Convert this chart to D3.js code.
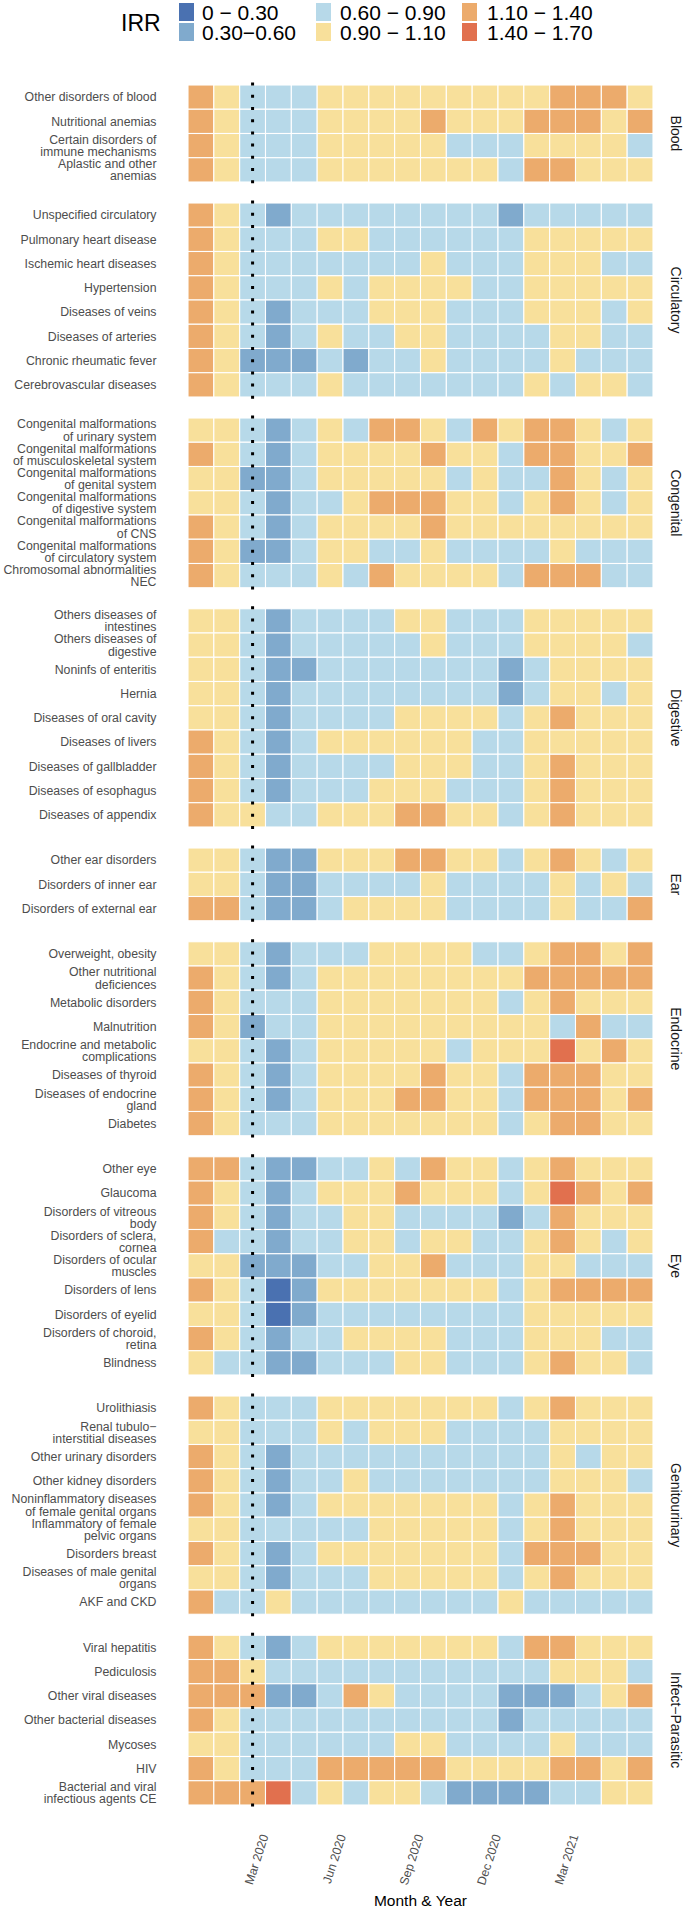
<!DOCTYPE html>
<html><head><meta charset="utf-8">
<script src="https://cdn.jsdelivr.net/npm/d3@7"></script>
<style>html,body{margin:0;padding:0;background:#fff;} svg{display:block;font-family:"Liberation Sans",Arial,sans-serif;}</style>
</head><body><svg id="chart" width="685" height="1912"></svg>
<script>
const months = ["Jan 2020","Feb 2020","Mar 2020","Apr 2020","May 2020","Jun 2020","Jul 2020","Aug 2020","Sep 2020","Oct 2020","Nov 2020","Dec 2020","Jan 2021","Feb 2021","Mar 2021","Apr 2021","May 2021","Jun 2021"];
const tickMonths = ["Mar 2020","Jun 2020","Sep 2020","Dec 2020","Mar 2021"];
const lockdownMonth = "Mar 2020";
const irrBreaks = [0.3, 0.6, 0.9, 1.1, 1.4];
const irrColors = ["#4a71b1", "#80aacd", "#b7d9e9", "#f8e09b", "#ecab6c", "#e1704e"];
const irrLegendLabels = ["0 \u2212 0.30", "0.30\u22120.60", "0.60 \u2212 0.90", "0.90 \u2212 1.10", "1.10 \u2212 1.40", "1.40 \u2212 1.70"];

const bloodLabels = ["Other disorders of blood","Nutritional anemias","Certain disorders of\nimmune mechanisms","Aplastic and other\nanemias"];
const bloodValues = [
[1.25,1,.75,.75,.75,1,1,1,1,1,1,1,1,1,1.25,1.25,1.25,1],
[1.25,1,.75,.75,.75,1,1,1,1,1.25,1,1,1,1.25,1.25,1.25,1,1.25],
[1.25,1,.75,.75,.75,1,1,1,1,1,.75,.75,.75,1,1,1,1,.75],
[1.25,1,.75,.75,.75,1,1,1,1,1,1,1,.75,1.25,1.25,1,1,1]];

const circLabels = ["Unspecified circulatory","Pulmonary heart disease","Ischemic heart diseases","Hypertension","Diseases of veins","Diseases of arteries","Chronic rheumatic fever","Cerebrovascular diseases"];
const circValues = [
[1.25,1,.75,.45,.75,.75,.75,.75,.75,.75,.75,.75,.45,.75,.75,.75,.75,.75],
[1.25,1,.75,.75,.75,1,1,.75,.75,.75,.75,.75,.75,1,1,1,1,1],
[1.25,1,.75,.75,.75,.75,.75,.75,.75,1,.75,.75,.75,1,1,1,.75,.75],
[1.25,1,.75,.75,.75,1,.75,1,1,1,1,.75,.75,1,1,1,1,1],
[1.25,1,.75,.45,.75,.75,.75,1,1,1,.75,.75,.75,1,1,1,.75,1],
[1.25,1,.75,.45,.75,1,.75,.75,1,1,.75,.75,.75,.75,1,1,.75,.75],
[1.25,1,.45,.45,.45,.75,.45,.75,.75,1,.75,.75,.75,.75,1,.75,.75,.75],
[1.25,1,.75,.75,.75,1,.75,.75,.75,.75,.75,.75,.75,1,.75,1,1,.75]];

const congLabels = ["Congenital malformations\nof urinary system","Congenital malformations\nof musculoskeletal system","Congenital malformations\nof genital system","Congenital malformations\nof digestive system","Congenital malformations\nof CNS","Congenital malformations\nof circulatory system","Chromosomal abnormalities\nNEC"];
const congValues = [
[1,1,.75,.45,.75,1,.75,1.25,1.25,1,.75,1.25,1,1.25,1.25,1,.75,1],
[1.25,1,.75,.45,.75,1,1,1,1,1.25,1,1,.75,1.25,1.25,1,1,1.25],
[1,1,.45,.45,.75,1,1,1,1,1,.75,1,.75,.75,1.25,1,.75,1],
[1,1,.75,.45,.75,.75,1,1.25,1.25,1.25,1,1,.75,1,1.25,1,.75,1],
[1.25,1,.75,.45,.75,1,1,1,1,1.25,1,1,1,1,1,1,1,1],
[1.25,1,.45,.45,.75,1,1,.75,.75,1,.75,.75,.75,.75,1,.75,.75,.75],
[1.25,1,.75,.75,.75,1,.75,1.25,1,1,1,1,.75,1.25,1.25,1.25,.75,.75]];

const digLabels = ["Others diseases of\nintestines","Others diseases of\ndigestive","Noninfs of enteritis","Hernia","Diseases of oral cavity","Diseases of livers","Diseases of gallbladder","Diseases of esophagus","Diseases of appendix"];
const digValues = [
[1,1,.75,.45,.75,.75,.75,.75,1,1,.75,.75,.75,1,1,1,1,1],
[1,1,.75,.45,.75,.75,.75,.75,.75,1,.75,.75,.75,1,1,1,1,.75],
[1,1,.75,.45,.45,.75,.75,.75,.75,.75,.75,.75,.45,.75,1,1,1,1],
[1,1,.75,.45,.75,.75,.75,.75,.75,.75,.75,.75,.45,.75,1,1,.75,1],
[1,1,.75,.45,.75,.75,.75,.75,1,1,1,1,.75,1,1.25,1,1,1],
[1.25,1,.75,.45,.75,1,1,1,1,1,1,.75,.75,1,1,1,1,1],
[1.25,1,.75,.45,.75,.75,.75,.75,1,1,1,.75,.75,1,1.25,1,1,1],
[1.25,1,.75,.45,.75,.75,.75,1,1,1,.75,.75,.75,1,1.25,1,1,1],
[1.25,1,1,.75,.75,1,1,1,1.25,1.25,1,1,.75,1,1.25,1,1,1]];

const earLabels = ["Other ear disorders","Disorders of inner ear","Disorders of external ear"];
const earValues = [
[1,1,.75,.45,.45,1,1,1,1.25,1.25,1,1,.75,1,1.25,1,.75,1],
[1,1,.75,.45,.45,.75,.75,.75,.75,1,.75,.75,.75,.75,1,.75,1,.75],
[1.25,1.25,.75,.45,.45,.75,1,1,1,1,.75,.75,.75,.75,1,.75,.75,1.25]];

const endoLabels = ["Overweight, obesity","Other nutritional\ndeficiences","Metabolic disorders","Malnutrition","Endocrine and metabolic\ncomplications","Diseases of thyroid","Diseases of endocrine\ngland","Diabetes"];
const endoValues = [
[1,1,.75,.45,.75,.75,.75,1,1,1,1,.75,.75,1,1.25,1.25,1,1.25],
[1.25,1,.75,.45,.75,1,1,1,1,1,1,1,1,1.25,1.25,1.25,1.25,1.25],
[1.25,1,.75,.75,.75,1,1,1,1,1,1,1,.75,1,1.25,1,1,1],
[1.25,1,.45,.75,.75,1,1,1,1,1,1,1,1,1,.75,1.25,.75,.75],
[1,1,.75,.45,.75,1,1,1,1,1,.75,1,1,1,1.55,1,1.25,1],
[1.25,1,.75,.45,.75,1,1,1,1,1.25,1,1,.75,1.25,1.25,1.25,1,1],
[1.25,1,.75,.45,.75,1,1,1,1.25,1.25,1,1,.75,1.25,1.25,1.25,1,1.25],
[1.25,1,.75,.75,.75,1,1,1,1,1,1,1,.75,1,1.25,1.25,1,1]];

const eyeLabels = ["Other eye","Glaucoma","Disorders of vitreous\nbody","Disorders of sclera,\ncornea","Disorders of ocular\nmuscles","Disorders of lens","Disorders of eyelid","Disorders of choroid,\nretina","Blindness"];
const eyeValues = [
[1.25,1.25,.75,.45,.45,.75,.75,1,.75,1.25,1,1,.75,1,1.25,1,1,1],
[1.25,1,.75,.45,.75,1,1,1,1.25,1,1,1,.75,1,1.55,1.25,1,1.25],
[1.25,1,.75,.45,.75,.75,1,1,.75,.75,.75,.75,.45,.75,1.25,1,1,1],
[1.25,.75,.75,.45,.75,.75,1,1,.75,1,1,.75,.75,1,1.25,1,.75,1],
[1,1,.45,.45,.45,.75,.75,1,1,1.25,.75,.75,.75,1,1,.75,.75,.75],
[1.25,1,.75,.2,.45,1,1,1,1,1,1,1,.75,1,1.25,1.25,1.25,1.25],
[1,1,.75,.2,.45,.75,.75,.75,.75,.75,.75,.75,.75,1,1,1,1,1],
[1.25,1,.75,.45,.75,.75,1,1,1,1,.75,.75,.75,1,1,1,.75,.75],
[1,.75,.75,.45,.45,.75,.75,.75,1,1,.75,.75,.75,1,1.25,1,1,.75]];

const genLabels = ["Urolithiasis","Renal tubulo\u2212\ninterstitial diseases","Other urinary disorders","Other kidney disorders","Noninflammatory diseases\nof female genital organs","Inflammatory of female\npelvic organs","Disorders breast","Diseases of male genital\norgans","AKF and CKD"];
const genValues = [
[1.25,1,.75,.75,.75,1,1,1,1,1,1,1,.75,1,1.25,1,1,1],
[1,1,.75,.75,.75,1,.75,1,1,1,.75,.75,.75,.75,1,1,1,1],
[1.25,1,.75,.45,.75,.75,.75,.75,.75,.75,.75,.75,.75,.75,1,.75,1,1],
[1.25,1,.75,.45,.75,.75,1,.75,.75,.75,.75,.75,.75,.75,1,1,1,.75],
[1.25,1,.75,.45,.75,1,1,1,1,1,1,1,.75,1,1.25,1,1,1],
[1,1,.75,.75,.75,.75,.75,1,1,1,1,1,.75,1,1.25,1,1,1],
[1.25,1,.75,.45,.75,1,1,1,1,1,1,1,.75,1.25,1.25,1.25,1,1],
[1,1,.75,.45,.75,.75,.75,1,1,1,1,1,.75,1,1.25,1,1,1],
[1.25,.75,.75,1,.75,.75,.75,.75,.75,.75,.75,.75,1,.75,.75,.75,.75,.75]];

const infLabels = ["Viral hepatitis","Pediculosis","Other viral diseases","Other bacterial diseases","Mycoses","HIV","Bacterial and viral\ninfectious agents CE"];
const infValues = [
[1.25,1,.75,.45,.75,1,1,1,1,1,1,1,.75,1.25,1.25,1,1,1],
[1.25,1.25,1,.75,.75,.75,.75,.75,.75,.75,.75,.75,.75,.75,1,1,1,.75],
[1.25,1.25,1.25,.45,.45,.75,1.25,1,.75,.75,.75,.75,.45,.45,.45,.75,1,1.25],
[1.25,1,.75,.75,.75,.75,.75,.75,.75,.75,.75,.75,.45,.75,.75,.75,.75,.75],
[1,1,.75,.75,.75,.75,.75,.75,1,1,.75,.75,.75,.75,1,.75,.75,.75],
[1.25,1,.75,.75,.75,1.25,1.25,1.25,1.25,1.25,1,1,1,1,1.25,1.25,1,1.25],
[1.25,1.25,1.25,1.55,.75,1,.75,1,1,.75,.45,.45,.45,.45,.75,.75,1,1]];

const groupNames = ["Blood","Circulatory","Congenital","Digestive","Ear","Endocrine","Eye","Genitourinary","Infect\u2212Parasitic"];
const groupLabels = [bloodLabels, circLabels, congLabels, digLabels, earLabels, endoLabels, eyeLabels, genLabels, infLabels];
const groupValues = [bloodValues, circValues, congValues, digValues, earValues, endoValues, eyeValues, genValues, infValues];

// ---------- layout ----------
const svg = d3.select("#chart");
const plotLeft = 188, plotRight = 653, plotTop = 85, rowH = 24.25, panelGap = 21;
const labelColor = "#4d4d4d";

const x = d3.scaleBand().domain(months).range([plotLeft, plotRight]);
const color = d3.scaleThreshold().domain(irrBreaks).range(irrColors);

let curTop = plotTop;
const panels = groupNames.map((name, gi) => {
  const labels = groupLabels[gi];
  const y = d3.scaleBand().domain(labels).range([curTop, curTop + labels.length * rowH]);
  const p = {name, labels, values: groupValues[gi], y, top: curTop, bottom: curTop + labels.length * rowH};
  curTop = p.bottom + panelGap;
  return p;
});
const plotBottom = panels[panels.length - 1].bottom;

panels.forEach(p => {
  const g = svg.append("g").attr("class", "panel");
  const cells = [];
  p.labels.forEach((lab, ri) => months.forEach((m, ci) => cells.push({lab, m, v: p.values[ri][ci]})));
  g.selectAll("rect").data(cells).join("rect")
    .attr("x", d => x(d.m)).attr("y", d => p.y(d.lab))
    .attr("width", x.bandwidth()).attr("height", p.y.bandwidth())
    .attr("fill", d => color(d.v))
    .attr("stroke", "#ffffff").attr("stroke-width", 1.1);

  const lt = g.selectAll("text.rowlab").data(p.labels).join("text")
    .attr("class", "rowlab")
    .attr("text-anchor", "end")
    .attr("font-size", 12.3)
    .attr("fill", labelColor);
  lt.each(function(d) {
    const lines = d.split("\n");
    const cy = p.y(d) + p.y.bandwidth() / 2;
    const lh = 12.3;
    lines.forEach((ln, i) => {
      d3.select(this).append("tspan")
        .attr("x", 156.5)
        .attr("y", cy + (i - (lines.length - 1) / 2) * lh)
        .attr("dy", "0.35em")
        .text(ln);
    });
  });

  const ext = rowH * 0.1;
  g.append("line")
    .attr("x1", x(lockdownMonth) + x.bandwidth() / 2)
    .attr("x2", x(lockdownMonth) + x.bandwidth() / 2)
    .attr("y1", p.top - ext).attr("y2", p.bottom + ext)
    .attr("stroke", "#000").attr("stroke-width", 3)
    .attr("stroke-dasharray", "3 9.2");

  const cy = (p.top + p.bottom) / 2;
  g.append("text")
    .attr("transform", `translate(676,${cy}) rotate(90)`)
    .attr("text-anchor", "middle")
    .attr("dy", "0.35em")
    .attr("font-size", 14)
    .attr("fill", "#1a1a1a")
    .text(p.name);
});

const axis = d3.axisBottom(x).tickValues(tickMonths).tickSize(0).tickFormat(d => d);
const ax = svg.append("g").attr("transform", `translate(0,${plotBottom})`).call(axis);
ax.select(".domain").remove();
ax.selectAll("text")
  .attr("x", 0).attr("y", 0).attr("dy", 0)
  .attr("transform", "translate(16,31) rotate(-72)")
  .attr("text-anchor", "end")
  .attr("font-size", 12.3)
  .attr("font-family", "Liberation Sans, Arial, sans-serif")
  .attr("fill", labelColor);

svg.append("text")
  .attr("x", (plotLeft + plotRight) / 2).attr("y", 1906)
  .attr("text-anchor", "middle").attr("font-size", 15.5).attr("fill", "#000")
  .text("Month & Year");

const leg = svg.append("g");
leg.append("text").attr("x", 121).attr("y", 31).attr("font-size", 23).attr("fill", "#000").text("IRR");
const legCols = [179, 316, 462];
const legTextX = [202, 340, 487];
const legRows = [12, 32];
irrColors.forEach((c, i) => {
  const col = Math.floor(i / 2), row = i % 2;
  leg.append("rect").attr("x", legCols[col]).attr("y", legRows[row] - 9)
    .attr("width", 15).attr("height", 18).attr("fill", c);
  leg.append("text").attr("x", legTextX[col]).attr("y", legRows[row] + 7.5)
    .attr("font-size", 21).attr("fill", "#000").text(irrLegendLabels[i]);
});
</script></body></html>
